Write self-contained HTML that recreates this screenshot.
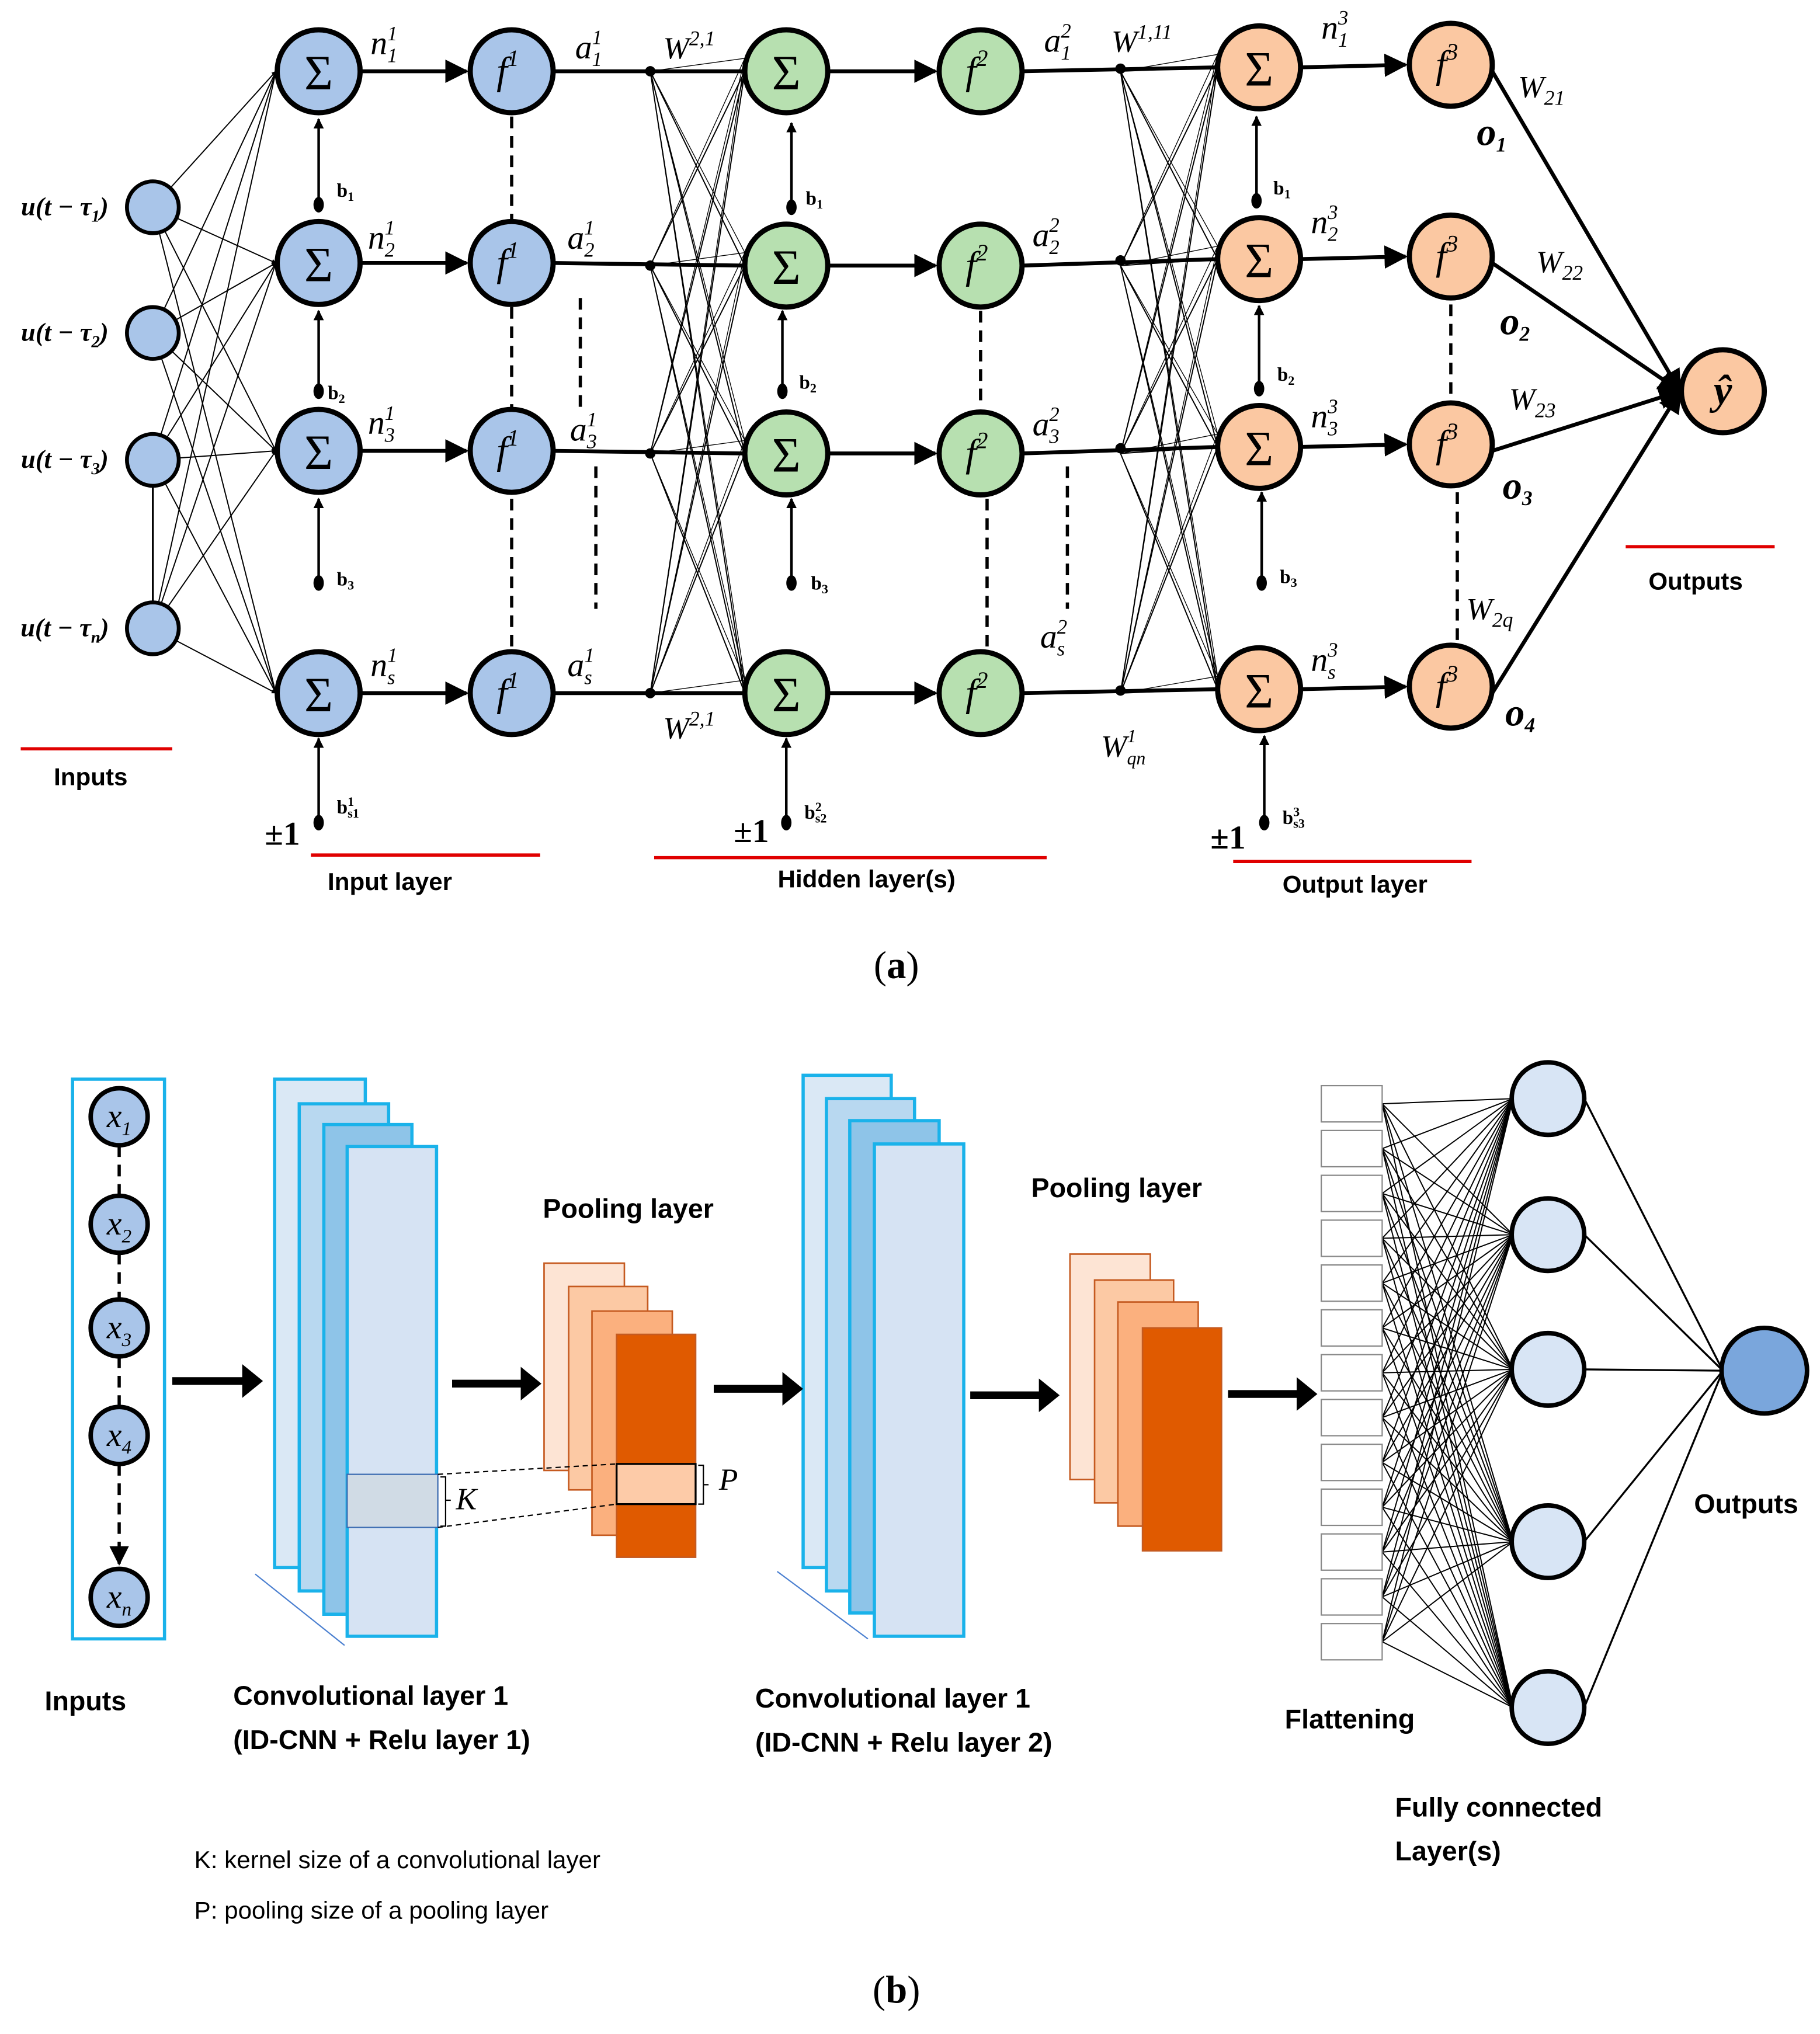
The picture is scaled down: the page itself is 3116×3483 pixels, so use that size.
<!DOCTYPE html>
<html><head><meta charset="utf-8"><style>
html,body{margin:0;padding:0;background:#fff;}
svg{display:block;}
.m{font-family:"Liberation Serif",serif;font-style:italic;}
.b{font-family:"Liberation Sans",sans-serif;font-weight:bold;}
</style></head><body>
<svg id="s" xmlns="http://www.w3.org/2000/svg" width="3116" height="3483" viewBox="0 0 1405 1570" preserveAspectRatio="none">
<defs>
<marker id="ar" viewBox="0 0 10 10" refX="9" refY="5" markerWidth="4" markerHeight="4" orient="auto"><path d="M0,0L10,5L0,10z" fill="#000"/></marker>
<marker id="as" viewBox="0 0 10 10" refX="9" refY="5" markerWidth="6" markerHeight="6" orient="auto"><path d="M0,0L10,5L0,10z" fill="#000"/></marker>
</defs>
<g id="thin" stroke="#222" stroke-width="0.9"></g>
<g id="main"></g>
</svg>
<script>
var NS="http://www.w3.org/2000/svg",S=document.getElementById('main'),T=document.getElementById('thin');
function el(t,a,p,txt){var e=document.createElementNS(NS,t);for(var k in a)e.setAttribute(k,a[k]);if(txt!==undefined)e.innerHTML=txt;(p||S).appendChild(e);return e;}
function ln(x1,y1,x2,y2,w,extra,p){var a={x1:x1,y1:y1,x2:x2,y2:y2,stroke:'#000','stroke-width':w||1};for(var k in extra)a[k]=extra[k];return el('line',a,p);}
function circ(x,y,r,f,w){el('circle',{cx:x,cy:y,r:r,fill:f,stroke:'#000','stroke-width':w||4});}
function tx(x,y,s,cls,size,anchor){return el('text',{x:x,y:y,'class':cls,'font-size':size,'text-anchor':anchor||'start'},S,s);}
var BL='#a9c5e9',GR='#b7e0b0',OR='#fbc8a2';
var inY=[160,257,355,485], c1=[55,203,348,535], c1b=[55,205,350,535], c3=[52,200,345,532];
inY.forEach(function(y){c1.forEach(function(t){ln(118,y,213,t,0.9,{'marker-end':'url(#ar)'},T);});});
[502,865].forEach(function(jx,i){var src=i==0?c1b:[55,205,350,535],dst=i==0?c1b:c3;var tx2=i==0?575:940;
 src.forEach(function(a){dst.forEach(function(b){ln(jx,a,tx2,b,0.9,{},T);ln(jx,a,tx2,b-10,0.6,{},T);});});});
ln(118,375,118,465,1.5);
for(var i=0;i<4;i++){
 ln(278,c1[i],360,c1[i],3,{'marker-end':'url(#as)'});
 ln(427,c1[i],575,c1b[i],3);
 el('circle',{cx:502,cy:c1b[i],r:4,fill:'#000'});
 ln(639,c1b[i],722,c1b[i],3,{'marker-end':'url(#as)'});
 ln(789,c1b[i],940,c3[i],3);
 el('circle',{cx:865,cy:c3[i]+1,r:4,fill:'#000'});
 ln(1004,c3[i],1085,c3[i]-2,3,{'marker-end':'url(#as)'});
}
[50,198,343,530].forEach(function(y){ln(1152,y+5,1297,302,3,{'marker-end':'url(#as)'});});
for(var i=0;i<4;i++){
 circ(246,c1[i],32,BL);tx(246,c1[i]+14,'Σ','m',38,'middle').setAttribute('style','font-style:normal');
 circ(395,c1[i],32,BL);tx(392,c1[i]+10,'f<tspan font-size="18" dy="-14">1</tspan>','m',30,'middle');
 circ(607,c1b[i],32,GR);tx(607,c1b[i]+14,'Σ','m',38,'middle').setAttribute('style','font-style:normal');
 circ(757,c1b[i],32,GR);tx(754,c1b[i]+10,'f<tspan font-size="18" dy="-14">2</tspan>','m',30,'middle');
 circ(972,c3[i],32,OR);tx(972,c3[i]+14,'Σ','m',38,'middle').setAttribute('style','font-style:normal');
 var fy=[50,198,343,530][i];
 circ(1120,fy,32,OR);tx(1117,fy+10,'f<tspan font-size="18" dy="-14">3</tspan>','m',30,'middle');
}
circ(1330,302,32,OR);tx(1330,312,'ŷ','m',32,'middle').setAttribute('font-weight','bold');
inY.forEach(function(y){circ(118,y,20,BL,3);});
var ul=['u(t − τ<tspan font-size="13" dy="5">1</tspan><tspan dy="-5">)</tspan>','u(t − τ<tspan font-size="13" dy="5">2</tspan><tspan dy="-5">)</tspan>','u(t − τ<tspan font-size="13" dy="5">3</tspan><tspan dy="-5">)</tspan>','u(t − τ<tspan font-size="13" dy="5">n</tspan><tspan dy="-5">)</tspan>'];
inY.forEach(function(y,i){var t=tx(50,y+6,ul[i],'m',20,'middle');t.setAttribute('font-weight','bold');});
function bias(x,ytop,ydot,lab,lx,ly){ln(x,ydot,x,ytop,2,{'marker-end':'url(#ar)'});el('ellipse',{cx:x,cy:ydot,rx:4,ry:6,fill:'#000'});var t=tx(lx,ly,lab,'m',15);t.setAttribute('font-weight','bold');t.setAttribute('style','font-style:normal');}
bias(246,92,158,'b<tspan font-size="10" dy="3">1</tspan>',260,152);
bias(246,240,302,'b<tspan font-size="10" dy="3">2</tspan>',253,308);
bias(246,385,450,'b<tspan font-size="10" dy="3">3</tspan>',260,452);
bias(246,570,635,'b<tspan font-size="10" dy="-6">1</tspan><tspan font-size="10" dx="-5" dy="9">s1</tspan>',260,628);
bias(611,95,160,'b<tspan font-size="10" dy="3">1</tspan>',622,158);
bias(604,240,302,'b<tspan font-size="10" dy="3">2</tspan>',617,300);
bias(611,385,450,'b<tspan font-size="10" dy="3">3</tspan>',626,455);
bias(607,570,635,'b<tspan font-size="10" dy="-6">2</tspan><tspan font-size="10" dx="-5" dy="9">s2</tspan>',621,632);
bias(970,90,155,'b<tspan font-size="10" dy="3">1</tspan>',983,150);
bias(972,236,300,'b<tspan font-size="10" dy="3">2</tspan>',986,294);
bias(974,380,450,'b<tspan font-size="10" dy="3">3</tspan>',988,450);
bias(976,568,635,'b<tspan font-size="10" dy="-6">3</tspan><tspan font-size="10" dx="-5" dy="9">s3</tspan>',990,636);
[[218,652],[580,650],[948,655]].forEach(function(p){var t=tx(p[0],p[1],'±1','m',26,'middle');t.setAttribute('style','font-style:normal');t.setAttribute('font-weight','bold');});
var D={'stroke-dasharray':'9,6'};
[[395,90,170],[395,237,315],[395,385,500],[448,230,315],[460,360,470],[757,240,315],[762,385,500],[824,360,470],[1120,235,310],[1125,380,495]].forEach(function(d){ln(d[0],d[1],d[0],d[2],2.5,D);});
function sup(x,y,b,sp,sb,sz){tx(x,y,b+'<tspan font-size="'+(sz*0.6)+'" dy="-11">'+sp+'</tspan><tspan font-size="'+(sz*0.6)+'" dx="-'+(sz*0.3)+'" dy="17">'+sb+'</tspan>','m',sz);}
[[286,42,1],[284,192,2],[284,335,3],[286,522,'s']].forEach(function(p){sup(p[0],p[1],'n',1,p[2],26);});
[[444,45,1],[438,192,2],[440,340,3],[438,522,'s']].forEach(function(p){sup(p[0],p[1],'a',1,p[2],26);});
[[806,40,1],[797,190,2],[797,336,3],[803,500,'s']].forEach(function(p){sup(p[0],p[1],'a',2,p[2],26);});
[[1020,30,1],[1012,180,2],[1012,330,3],[1012,518,'s']].forEach(function(p){sup(p[0],p[1],'n',3,p[2],26);});
tx(512,45,'W<tspan font-size="16" dy="-10">2,1</tspan>','m',24);
tx(512,570,'W<tspan font-size="16" dy="-10">2,1</tspan>','m',24);
tx(858,40,'W<tspan font-size="16" dy="-10">1,11</tspan>','m',24);
sup(850,584,'W',1,'qn',24);
tx(1172,75,'W<tspan font-size="16" dy="6">21</tspan>','m',24);
tx(1186,210,'W<tspan font-size="16" dy="6">22</tspan>','m',24);
tx(1165,316,'W<tspan font-size="16" dy="6">23</tspan>','m',24);
tx(1132,478,'W<tspan font-size="16" dy="6">2q</tspan>','m',24);
[[1140,112,1],[1158,258,2],[1160,385,3],[1162,560,4]].forEach(function(p){var t=tx(p[0],p[1],'o<tspan font-size="16" dy="5">'+p[2]+'</tspan>','m',30);t.setAttribute('font-weight','bold');});
function red(x1,x2,y){ln(x1,y,x2,y,2.5,{stroke:'#e00000'});}
red(16,133,578);red(240,417,660);red(505,808,662);red(952,1136,665);red(1255,1370,422);
tx(70,606,'Inputs','b',19,'middle');tx(301,687,'Input layer','b',19,'middle');tx(669,685,'Hidden layer(s)','b',19,'middle');tx(1046,689,'Output layer','b',19,'middle');tx(1309,455,'Outputs','b',19,'middle');
tx(692,755,'(<tspan font-weight="bold">a</tspan>)','m',30,'middle').setAttribute('style','font-style:normal');
el('rect',{x:56,y:833,width:71,height:432,fill:'none',stroke:'#1ab2ea','stroke-width':2.5});
var xy=[862,945,1025,1108,1233];
ln(92,884,92,923,2.5,D);ln(92,967,92,1003,2.5,D);ln(92,1047,92,1086,2.5,D);ln(92,1130,92,1207,2.5,{'stroke-dasharray':'9,6','marker-end':'url(#as)'});
['1','2','3','4','n'].forEach(function(s,i){circ(92,xy[i],22,BL,3.5);tx(92,xy[i]+8,'x<tspan font-size="15" dy="6">'+s+'</tspan>','m',26,'middle');});
function block(x,y,x2,y2,fill){el('rect',{x:x,y:y,width:x2-x,height:y2-y,fill:fill,stroke:'#1ab2ea','stroke-width':2.5});}
function pblock(x,y,x2,y2,fill){el('rect',{x:x,y:y,width:x2-x,height:y2-y,fill:fill,stroke:'#c55a20','stroke-width':1.2});}
ln(197,1215,266,1270,1,{stroke:'#4a7fd0'});
block(212,833,282,1210,'#dae8f5');block(231,852,300,1228,'#b8d8f0');block(250,868,318,1246,'#8ec4e8');block(268,885,337,1263,'#d6e3f3');
el('rect',{x:268,y:1138,width:70,height:41,fill:'#d0dbe5',stroke:'#3a6ab0','stroke-width':1});
pblock(420,975,482,1135,'#fde4d4');pblock(439,993,500,1150,'#fcc9a4');pblock(457,1012,519,1185,'#fbb07e');pblock(476,1030,537,1202,'#e05a00');
el('rect',{x:476,y:1130,width:61,height:31,fill:'#fdcba8',stroke:'#000','stroke-width':1.5});
ln(338,1138,476,1130,1,{'stroke-dasharray':'4,3'});ln(338,1179,476,1161,1,{'stroke-dasharray':'4,3'});
el('path',{d:'M340,1140h4v38h-4M344,1158h4',fill:'none',stroke:'#000','stroke-width':1});
el('path',{d:'M539,1131h4v30h-4M543,1146h4',fill:'none',stroke:'#000','stroke-width':1});
tx(352,1165,'K','m',24);tx(555,1150,'P','m',24);
ln(600,1213,670,1265,1,{stroke:'#4a7fd0'});
block(620,830,688,1210,'#dae8f5');block(638,848,706,1228,'#b8d8f0');block(656,865,725,1245,'#8ec4e8');block(675,883,744,1263,'#d6e3f3');
pblock(826,968,888,1142,'#fde4d4');pblock(845,988,906,1160,'#fcc9a4');pblock(863,1005,925,1178,'#fbb07e');pblock(882,1025,943,1197,'#e05a00');
[[133,1066,203],[349,1068,418],[551,1072,620],[749,1077,818],[948,1076,1017]].forEach(function(a){ln(a[0],a[1],a[2]-14,a[1],6);el('path',{d:'M'+(a[2]-16)+','+(a[1]-13)+'L'+a[2]+','+a[1]+'L'+(a[2]-16)+','+(a[1]+13)+'z',fill:'#000'});});
var fcY=[848,953,1057,1190,1318];
for(var i=0;i<13;i++){var y=838+i*34.6;fcY.forEach(function(t){ln(1067,y+14,1168,t,0.9,{},T);});}
for(var i=0;i<13;i++){var y=838+i*34.6;el('rect',{x:1020,y:y,width:47,height:28,fill:'#fff',stroke:'#888','stroke-width':1});}
fcY.forEach(function(y){ln(1223,y,1330,1058,1.5);});
fcY.forEach(function(y){circ(1195,y,28,'#d8e5f5',3.5);});
circ(1362,1058,33,'#7aa6dc',3.5);
tx(66,1320,'Inputs','b',21,'middle');
tx(180,1316,'Convolutional layer 1','b',21);tx(180,1350,'(ID-CNN + Relu layer 1)','b',21);
tx(485,940,'Pooling layer','b',21,'middle');tx(862,924,'Pooling layer','b',21,'middle');
tx(583,1318,'Convolutional layer 1','b',21);tx(583,1352,'(ID-CNN + Relu layer 2)','b',21);
tx(1042,1334,'Flattening','b',21,'middle');tx(1348,1168,'Outputs','b',21,'middle');
tx(1077,1402,'Fully connected','b',21);tx(1077,1436,'Layer(s)','b',21);
tx(150,1442,'K: kernel size of a convolutional layer','',19).setAttribute('font-family','Liberation Sans, sans-serif');
tx(150,1481,'P: pooling size of a pooling layer','',19).setAttribute('font-family','Liberation Sans, sans-serif');
tx(692,1546,'(<tspan font-weight="bold">b</tspan>)','m',30,'middle').setAttribute('style','font-style:normal');
</script>
</body></html>
